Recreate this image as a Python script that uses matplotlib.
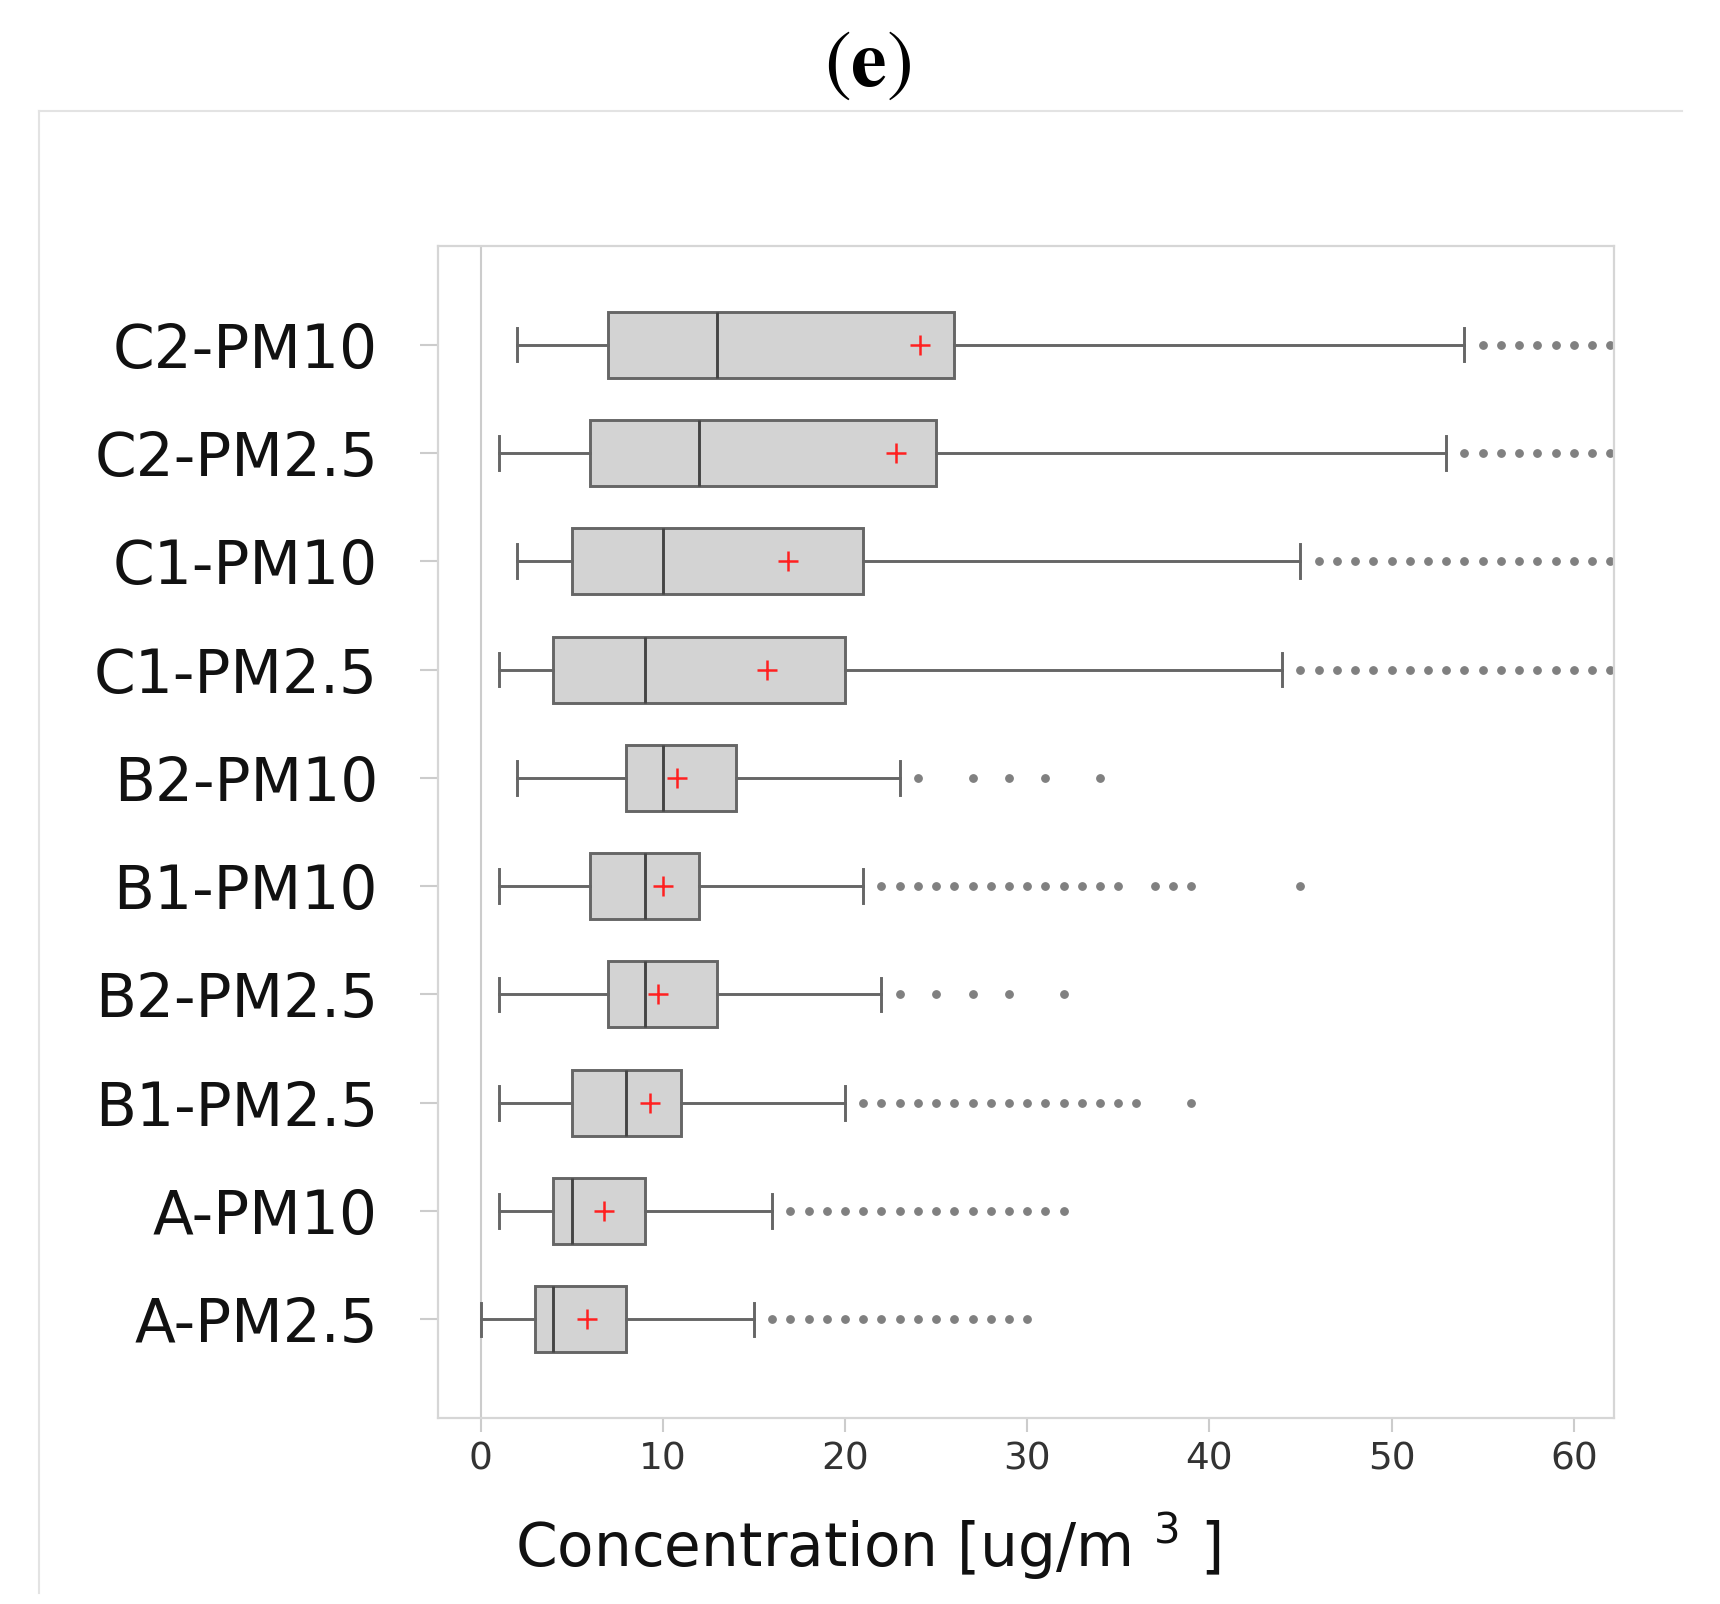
import matplotlib
matplotlib.use('Agg')
import matplotlib.pyplot as plt
from matplotlib.lines import Line2D

# groups from bottom to top
labels = ['A-PM2.5', 'A-PM10', 'B1-PM2.5', 'B2-PM2.5', 'B1-PM10',
          'B2-PM10', 'C1-PM2.5', 'C1-PM10', 'C2-PM2.5', 'C2-PM10']
whislo = [0, 1, 1, 1, 1, 2, 1, 2, 1, 2]
q1 = [3, 4, 5, 7, 6, 8, 4, 5, 6, 7]
med = [4, 5, 8, 9, 9, 10, 9, 10, 12, 13]
q3 = [8, 9, 11, 13, 12, 14, 20, 21, 25, 26]
whishi = [15, 16, 20, 22, 21, 23, 44, 45, 53, 54]
means = [5.85, 6.75, 9.3, 9.75, 10.0, 10.8, 15.7, 16.9, 22.8, 24.1]

fliers_a25 = [16, 17, 18, 19, 20, 21, 22, 23, 24, 25, 26, 27, 28, 29, 30]
fliers_a10 = [17, 18, 19, 20, 21, 22, 23, 24, 25, 26, 27, 28, 29, 30, 31, 32]
fliers_b1_25 = [21, 22, 23, 24, 25, 26, 27, 28, 29, 30, 31, 32, 33, 34, 35, 36, 39]
fliers_b2_25 = [23, 25, 27, 29, 32]
fliers_b1_10 = [22, 23, 24, 25, 26, 27, 28, 29, 30, 31, 32, 33, 34, 35,
                37, 38, 39, 45]
fliers_b2_10 = [24, 27, 29, 31, 34]
fliers_c1_25 = [45, 46, 47, 48, 49, 50, 51, 52, 53, 54, 55, 56, 57, 58, 59,
                60, 61, 62]
fliers_c1_10 = [46, 47, 48, 49, 50, 51, 52, 53, 54, 55, 56, 57, 58, 59, 60,
                61, 62]
fliers_c2_25 = [54, 55, 56, 57, 58, 59, 60, 61, 62]
fliers_c2_10 = [55, 56, 57, 58, 59, 60, 61, 62]
fliers = [fliers_a25, fliers_a10, fliers_b1_25, fliers_b2_25, fliers_b1_10,
          fliers_b2_10, fliers_c1_25, fliers_c1_10, fliers_c2_25, fliers_c2_10]

xticks = [0, 10, 20, 30, 40, 50, 60]

stats = []
for i in range(len(labels)):
    stats.append(dict(label=labels[i], whislo=whislo[i], q1=q1[i], med=med[i],
                      q3=q3[i], whishi=whishi[i], mean=means[i],
                      fliers=fliers[i]))

fig = plt.figure(figsize=(17.2, 16.04), dpi=100)
ax = fig.add_axes([0.2545, 0.1160, 0.6838, 0.7306])

line_col = '#666666'
positions = list(range(len(labels)))
ax.bxp(stats, positions=positions, orientation='horizontal', widths=0.61,
       capwidths=0.31, showmeans=True, patch_artist=True,
       boxprops=dict(facecolor='#d3d3d3', edgecolor=line_col, linewidth=2.1),
       whiskerprops=dict(color=line_col, linewidth=2.1),
       capprops=dict(color=line_col, linewidth=2.1),
       medianprops=dict(color='#444444', linewidth=2.1),
       meanprops=dict(marker='+', markeredgecolor='#ff2020', markersize=15,
                      markeredgewidth=1.8),
       flierprops=dict(marker='o', markerfacecolor='#808080',
                       markeredgecolor='#808080', markersize=5.3))

ax.axvline(0, color='#cccccc', linewidth=1.5, zorder=0)

ax.set_xlim(-2.35, 62.2)
ax.set_ylim(-0.91, 9.91)
ax.set_xticks(xticks)
ax.set_xticklabels([str(t) for t in xticks], fontsize=27, color='#333333')
ax.set_yticks(positions)
ax.set_yticklabels(labels, fontsize=43, color='#111111')
ax.tick_params(axis='y', length=13, width=1.5, color='#cccccc', pad=30)
ax.tick_params(axis='x', length=10, width=1.5, color='#cccccc', pad=7)
for s in ax.spines.values():
    s.set_color('#d6d6d6')
    s.set_linewidth(1.6)

ax.set_xlabel('Concentration [ug/m $^{3}$ ]', fontsize=43, color='#111111')
ax.xaxis.set_label_coords(0.366, -0.079)

# outer panel frame
fig.add_artist(Line2D([0.0224, 0.978], [0.931, 0.931], color='#e3e3e3',
                      linewidth=1.5, transform=fig.transFigure))
fig.add_artist(Line2D([0.0224, 0.0224], [0.0068, 0.931], color='#e3e3e3',
                      linewidth=1.5, transform=fig.transFigure))

plt.rcParams['mathtext.fontset'] = 'stix'
fig.text(0.5045, 0.960, r'$(\mathbf{e})$', fontsize=58, ha='center',
         va='center', color='black')

fig.savefig('out.png', dpi=100, facecolor='white')
